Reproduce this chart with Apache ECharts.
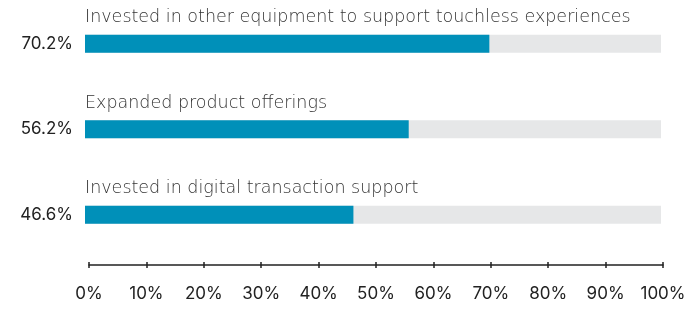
<!DOCTYPE html>
<html>
<head>
    <meta charset="utf-8">
    <script src="https://cdn.jsdelivr.net/npm/echarts@6/dist/echarts.min.js"></script>
    <style>
        html, body { margin: 0; padding: 0; background: #fff; }
    </style>
</head>
<body>
    <div id="main" style="width: 690px; height: 309px"></div>
    <script type="text/javascript">
        var categories = [
            'Invested in other equipment to support touchless experiences',
            'Expanded product offerings',
            'Invested in digital transaction support'
        ];
        var values = [70.2, 56.2, 46.6];
        var tickLabels = ['0%', '10%', '20%', '30%', '40%', '50%', '60%', '70%', '80%', '90%', '100%'];

        var font = 'Inter';

        var myChart = echarts.init(document.getElementById('main'));
        var option = {
            animation: false,
            grid: [
                { left: 85, width: 576, top: 1, height: 256.5 },
                { left: 89, right: 27, top: 200, bottom: 44 }
            ],
            xAxis: [
                {
                    gridIndex: 0, type: 'value', min: 0, max: 100, show: false
                },
                {
                    gridIndex: 1, type: 'value', min: 0, max: 100, interval: 10,
                    axisLine: { show: true, lineStyle: { color: '#222', width: 1.5 } },
                    axisTick: { show: true, length: 3, lineStyle: { color: '#222', width: 1.5 } },
                    splitLine: { show: false },
                    axisLabel: {
                        margin: 20, fontFamily: font, fontSize: 17, color: '#222',
                        formatter: function (v) { return tickLabels[Math.round(v / 10)]; }
                    }
                },
                {
                    gridIndex: 1, type: 'value', min: 0, max: 100, interval: 10, position: 'bottom',
                    axisLine: { show: false },
                    axisTick: { show: true, inside: true, length: 3, lineStyle: { color: '#222', width: 1.5 } },
                    splitLine: { show: false },
                    axisLabel: { show: false }
                }
            ],
            yAxis: [
                {
                    gridIndex: 0, type: 'category', data: categories, inverse: true,
                    axisLine: { show: false }, axisTick: { show: false },
                    axisLabel: {
                        margin: 12, fontFamily: font, fontSize: 17, color: '#222',
                        formatter: function (v, i) { return values[i].toFixed(1) + '%'; }
                    }
                },
                { gridIndex: 1, type: 'value', show: false },
                { gridIndex: 1, type: 'value', show: false }
            ],
            series: [
                {
                    type: 'bar',
                    xAxisIndex: 0,
                    yAxisIndex: 0,
                    data: values,
                    barWidth: 18,
                    itemStyle: { color: '#0090b9' },
                    showBackground: true,
                    backgroundStyle: { color: '#e6e7e8' },
                    label: {
                        show: true,
                        position: [0, -17],
                        verticalAlign: 'middle',
                        align: 'left',
                        formatter: '{b}',
                        fontFamily: '"DejaVu Sans"',
                        fontWeight: 200,
                        fontSize: 17.5,
                        color: '#333'
                    }
                }
            ]
        };
        myChart.setOption(option);
    </script>
</body>
</html>
